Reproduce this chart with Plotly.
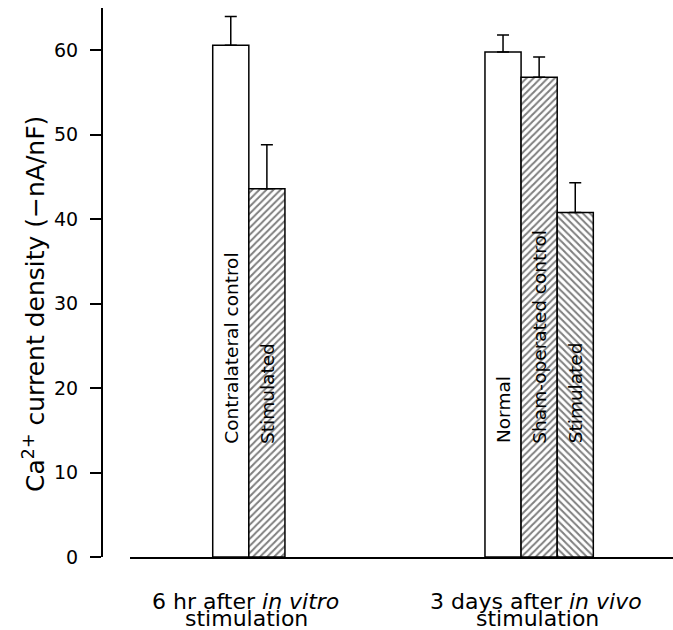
import plotly.graph_objects as go

# ---- data ----
group_keys = ["6 hr", "3 days"]
group_line1 = ["6 hr after <i>in vitro</i>", "3 days after <i>in vivo</i>"]
group_line2 = ["stimulation", "stimulation"]
bar_labels = ["Contralateral control", "Stimulated", "Normal",
              "Sham-operated control", "Stimulated"]
bar_group = [0, 0, 1, 1, 1]
means = [60.6, 43.6, 59.8, 56.8, 40.8]
sem = [3.4, 5.2, 2.0, 2.4, 3.5]
y_ticks = [0, 10, 20, 30, 40, 50, 60]

# ---- styling / layout ----
FONT = "DejaVu Sans"
W = 0.1244                      # bar width in category units
slot = [-1, 0, -1.5, -0.5, 0.5]  # left-edge offset, in bar widths
patterns = ["", "/", "", "/", "\\"]

fig = go.Figure()
for i in range(len(means)):
    g = bar_group[i]
    fig.add_trace(go.Bar(
        x=[group_keys[g]], y=[means[i]],
        width=W, offset=slot[i] * W,
        marker=dict(color="white",
                    line=dict(color="black", width=1.5),
                    pattern=dict(shape=patterns[i], size=5, solidity=0.4,
                                 fgcolor="black", bgcolor="white",
                                 fillmode="overlay")),
        error_y=dict(type="data", array=[sem[i]], arrayminus=[0],
                     symmetric=False, color="black", thickness=1.5, width=6),
        showlegend=False, hoverinfo="skip",
    ))
    fig.add_annotation(
        x=g + (slot[i] + 0.5) * W, y=13.2, xref="x", yref="y",
        text=bar_labels[i], textangle=-90, showarrow=False,
        yanchor="bottom", xanchor="center",
        font=dict(family=FONT, size=18.5, color="black"))

for g in range(len(group_keys)):
    fig.add_annotation(x=g, y=0, xref="x", yref="paper", yanchor="top",
                       xanchor="center",
                       yshift=-29.6, xshift=-3, text=group_line1[g],
                       showarrow=False,
                       font=dict(family=FONT, size=22, color="black"))
    fig.add_annotation(x=g, y=0, xref="x", yref="paper", yanchor="top",
                       xanchor="center",
                       yshift=-46.6, xshift=-2, text=group_line2[g],
                       showarrow=False,
                       font=dict(family=FONT, size=22, color="black"))

fig.add_annotation(x=-0.1184, y=30, xref="paper", yref="y",
                   xanchor="center", yanchor="middle",
                   text="Ca<sup>2+</sup> current density (\u2212nA/nF)",
                   textangle=-90, showarrow=False,
                   font=dict(family=FONT, size=25, color="black"))

fig.update_layout(
    width=673, height=630,
    margin=dict(l=102, r=0, t=8, b=73),
    paper_bgcolor="white", plot_bgcolor="white",
    barmode="overlay",
    xaxis=dict(type="category", categoryorder="array",
               categoryarray=group_keys,
               range=[-0.4094, 1.4611], domain=[0.049, 1],
               showline=True, linecolor="black", linewidth=2,
               ticks="", showticklabels=False, showgrid=False,
               zeroline=False, fixedrange=True),
    yaxis=dict(range=[0, 65], anchor="free", position=0,
               tickvals=y_ticks, ticks="outside", ticklen=11, tickwidth=2,
               tickcolor="black", showline=True, linecolor="black",
               linewidth=2, showgrid=False, zeroline=False,
               ticklabelstandoff=8,
               tickfont=dict(family=FONT, size=19, color="black")),
)

fig.write_html("out.html")
